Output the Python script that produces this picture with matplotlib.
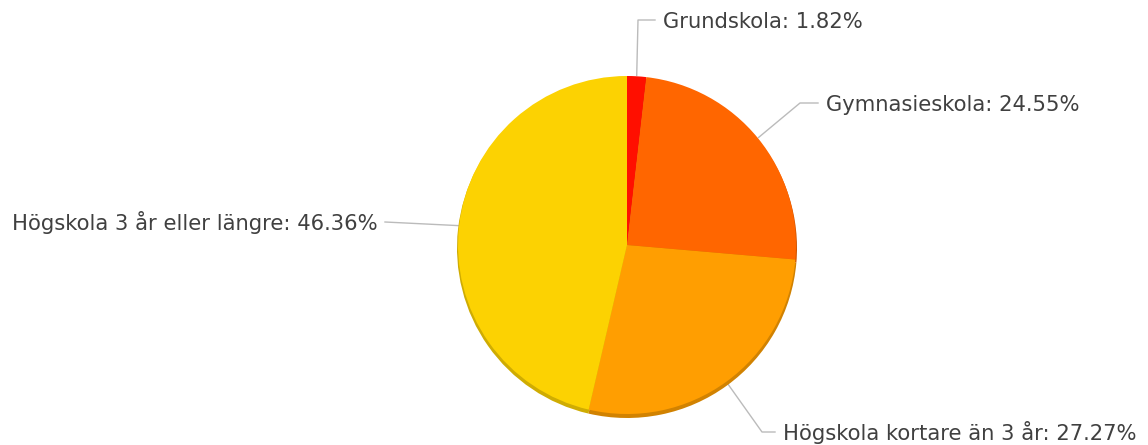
import numpy as np
import matplotlib.pyplot as plt
import matplotlib.colors as mcolors

# data
labels = ['Grundskola', 'Gymnasieskola', 'Högskola kortare än 3 år', 'Högskola 3 år eller längre']
values = [1.82, 24.55, 27.27, 46.36]
colors = ['#FF0F00', '#FF6600', '#FF9E01', '#FCD202']

W, H = 1148, 445
fig = plt.figure(figsize=(W / 100, H / 100), dpi=100)
ax = fig.add_axes([0, 0, 1, 1])

cx, cy, r = 627, H - 245, 170

# darker rim underneath (fake depth)
dark = [tuple(np.array(mcolors.to_rgb(c)) * 0.82) for c in colors]
ax.pie(values, colors=dark, startangle=90, counterclock=False,
       center=(cx, cy - 3), radius=r, frame=True,
       wedgeprops=dict(linewidth=0))
ax.pie(values, colors=colors, startangle=90, counterclock=False,
       center=(cx, cy), radius=r - 1, frame=True,
       wedgeprops=dict(linewidth=0))
ax.set_xlim(0, W)
ax.set_ylim(0, H)
ax.set_aspect('equal')
ax.axis('off')

# label layout: (elbow point, line end, text x, text y, ha) in pixels from top
layout = [
    ((638, 20), (655, 20), 663, 22, 'left'),
    ((800, 103), (818, 103), 826, 105, 'left'),
    ((762, 432), (775, 432), 783, 432, 'left'),
    ((385, 222), (385, 222), 378, 222, 'right'),
]

cum = np.cumsum([0] + values)
for i, lab in enumerate(labels):
    mid = (cum[i] + cum[i + 1]) / 2 / 100 * 360
    ang = np.deg2rad(90 - mid)
    ex, ey = cx + r * np.cos(ang), cy + r * np.sin(ang)
    (bx, by), (lx, ly), tx, ty, ha = layout[i]
    ax.plot([ex, bx, lx], [ey, H - by, H - ly], color='#BBBBBB', lw=1, zorder=0)
    ax.text(tx, H - ty, f'{lab}: {values[i]:.2f}%', ha=ha, va='center',
            fontsize=15.25, color='#404040', family='DejaVu Sans')

fig.savefig('out.png', dpi=100)
